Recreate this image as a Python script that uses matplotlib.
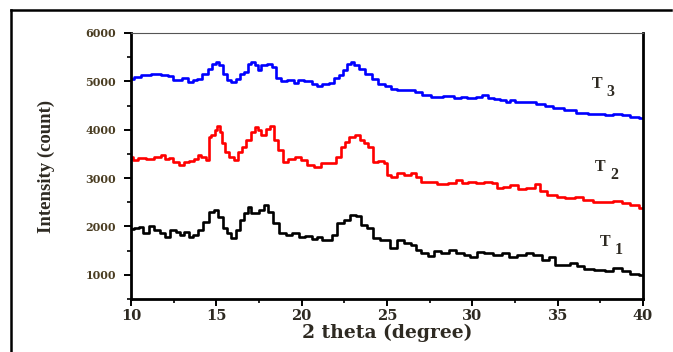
import numpy as np
import matplotlib
matplotlib.use("Agg")
import matplotlib.pyplot as plt
from matplotlib.lines import Line2D
from matplotlib.ticker import MultipleLocator

# XRD patterns (2 theta in degrees, intensity in counts)
t3_x = [10.0, 10.35, 10.85, 11.5, 12.0, 12.36, 12.6, 12.86, 13.17, 13.5, 13.74, 14.0, 14.37, 14.6,
        14.87, 15.05, 15.25, 15.5, 15.75, 16.0, 16.25, 16.5, 16.76, 16.93, 17.14, 17.39, 17.5, 17.76,
        18.14, 18.4, 18.64, 18.9, 19.4, 19.65, 19.9, 20.4, 20.78, 21.03, 21.4, 21.78, 22.03, 22.29,
        22.54, 22.79, 22.96, 23.2, 23.54, 23.9, 24.3, 24.67, 25.05, 25.4, 25.8, 26.4, 26.9, 27.2,
        27.9, 28.7, 29.2, 29.45, 29.95, 30.45, 30.7, 31.08, 31.46, 31.8, 32.1, 32.3, 32.7, 33.45,
        34.0, 34.5, 35.0, 35.7, 36.5, 37.0, 37.5, 38.0, 38.5, 39.0, 39.5, 40.0]
t3_y = [5044, 5090, 5126, 5150, 5130, 5105, 5023, 5020, 5070, 4990, 5020, 5055, 5160, 5263,
        5367, 5400, 5330, 5160, 5023, 4990, 5055, 5145, 5195, 5367, 5400, 5330, 5230, 5330,
        5367, 5300, 5060, 5010, 5020, 4970, 5020, 5010, 4955, 4900, 4955, 4970, 5060, 5126,
        5230, 5367, 5400, 5333, 5263, 5160, 5057, 4955, 4900, 4850, 4817, 4817, 4782, 4714,
        4680, 4690, 4665, 4680, 4660, 4680, 4714, 4665, 4645, 4610, 4576, 4624, 4576, 4576,
        4540, 4487, 4440, 4405, 4350, 4335, 4320, 4300, 4320, 4300, 4265, 4232]

t2_x = [10.0, 10.25, 10.6, 11.1, 11.6, 11.86, 12.1, 12.36, 12.6, 13.0, 13.24, 13.5, 13.87, 14.0,
        14.25, 14.5, 14.6, 14.8, 15.0, 15.12, 15.25, 15.38, 15.63, 15.88, 16.18, 16.33, 16.63,
        16.88, 17.14, 17.4, 17.5, 17.76, 18.0, 18.27, 18.5, 18.77, 19.0, 19.4, 19.77, 20.15, 20.5,
        20.9, 21.4, 21.9, 22.16, 22.4, 22.66, 22.9, 23.3, 23.54, 23.8, 24.0, 24.3, 24.67, 24.92,
        25.05, 25.4, 25.8, 26.2, 26.56, 26.8, 27.2, 27.7, 28.2, 28.9, 29.2, 29.56, 29.95, 30.45,
        30.95, 31.33, 31.6, 31.96, 32.46, 32.84, 33.45, 33.84, 34.1, 34.7, 35.2, 35.7, 36.3, 36.7,
        37.5, 38.0, 38.5, 39.0, 39.5, 40.0]
t2_y = [3441, 3372, 3407, 3386, 3441, 3476, 3386, 3407, 3338, 3270, 3324, 3360, 3386, 3476,
        3441, 3372, 3854, 3890, 3990, 4074, 3957, 3716, 3544, 3441, 3372, 3544, 3648,
        3785, 3957, 4060, 3990, 3890, 4025, 4074, 3785, 3580, 3338, 3386, 3428, 3372, 3270,
        3235, 3304, 3317, 3441, 3648, 3750, 3840, 3890, 3785, 3716, 3648, 3338, 3352, 3304,
        3063, 3030, 3097, 3063, 3111, 3030, 2925, 2925, 2877, 2890, 2960, 2905, 2925, 2905,
        2925, 2890, 2788, 2822, 2857, 2767, 2788, 2877, 2740, 2650, 2616, 2580, 2616, 2547,
        2513, 2513, 2527, 2480, 2445, 2375]

t1_x = [10.0, 10.35, 10.6, 10.85, 11.23, 11.48, 11.86, 12.1, 12.5, 12.74, 13.0, 13.24, 13.5,
        13.74, 14.12, 14.37, 14.75, 15.0, 15.25, 15.5, 15.75, 16.0, 16.25, 16.5, 16.76, 16.93,
        17.14, 17.39, 17.64, 17.9, 18.14, 18.5, 18.9, 19.27, 19.65, 20.03, 20.4, 20.78, 21.0,
        21.4, 21.66, 21.9, 22.29, 22.66, 23.04, 23.3, 23.67, 24.0, 24.3, 24.9, 25.4, 25.8, 26.2,
        26.56, 26.8, 27.2, 27.56, 27.94, 28.44, 28.8, 29.3, 29.7, 30.07, 30.45, 30.95, 31.46,
        31.96, 32.33, 32.96, 33.3, 33.84, 34.3, 34.7, 35.0, 35.45, 36.0, 36.3, 36.8, 37.5, 38.0,
        38.5, 39.0, 39.5, 40.0]
t1_y = [1942, 1963, 1997, 1873, 2011, 1928, 1873, 1790, 1928, 1894, 1825, 1894, 1777,
        1825, 1928, 2100, 2306, 2340, 2203, 1963, 1860, 1756, 1928, 2135, 2286, 2410,
        2272, 2272, 2340, 2444, 2306, 2066, 1860, 1825, 1860, 1790, 1804, 1736, 1790,
        1722, 1722, 1825, 2066, 2135, 2237, 2217, 2031, 1963, 1756, 1722, 1550, 1722, 1667,
        1619, 1515, 1447, 1392, 1502, 1447, 1515, 1447, 1413, 1364, 1481, 1447, 1413,
        1447, 1378, 1413, 1460, 1413, 1310, 1364, 1206, 1206, 1240, 1172, 1117, 1103, 1069,
        1137, 1069, 1021, 1000]

SERIES = [(t1_x, t1_y, "black"), (t2_x, t2_y, "#ff0000"), (t3_x, t3_y, "#0000ff")]
TXT = "#2e2a22"
TICKTXT = "#4a3d22"

fig = plt.figure(figsize=(6.73, 3.52), dpi=100)
ax = fig.add_axes([0.1947, 0.1506, 0.7607, 0.7557])

for xs, ys, col in SERIES:
    ax.plot(xs, ys, color=col, lw=1.9, drawstyle="steps-mid")

ax.set_xlim(10, 40)
ax.set_ylim(500, 6000)
ax.xaxis.set_major_locator(MultipleLocator(5))
ax.xaxis.set_minor_locator(MultipleLocator(2.5))
ax.yaxis.set_major_locator(MultipleLocator(1000))
ax.yaxis.set_minor_locator(MultipleLocator(500))
ax.set_yticks([1000, 2000, 3000, 4000, 5000, 6000])
ax.tick_params(which="major", direction="out", length=5, width=1.4)
ax.tick_params(which="minor", direction="out", length=3, width=1.2)
ax.tick_params(axis="y", labelsize=8, pad=6, labelcolor=TICKTXT)
ax.tick_params(axis="x", labelsize=10.5, pad=2, labelcolor=TXT)
for lab in ax.get_xticklabels() + ax.get_yticklabels():
    lab.set_fontfamily("DejaVu Serif")
    lab.set_fontweight("bold")

for s in ("left", "bottom", "right"):
    ax.spines[s].set_linewidth(2.0)
ax.spines["top"].set_linewidth(0.8)
ax.spines["top"].set_color("#555555")

ax.set_xlabel("2 theta (degree)", fontsize=13.5, fontweight="bold",
              family="DejaVu Serif", color=TXT, labelpad=1)
ax.set_ylabel("Intensity (count)", fontsize=13.5, fontweight="bold",
              family="Liberation Serif", color=TXT)
ax.yaxis.set_label_coords(-0.148, 0.5)

# curve labels
for x, y, d in [(37.3, 4950, "3"), (37.5, 3230, "2"), (37.8, 1680, "1")]:
    ax.text(x, y, "T", fontsize=11.5, fontweight="bold", family="Liberation Serif",
            color=TXT, ha="center", va="center")
    ax.text(x + 0.8, y - 160, d, fontsize=11.5, fontweight="bold", family="Liberation Serif",
            color=TXT, ha="center", va="center")

# outer frame of the original picture
fig.add_artist(Line2D([0.0163, 0.0163], [0.0, 0.9716], transform=fig.transFigure,
                      color="black", lw=1.8))
fig.add_artist(Line2D([0.0163, 0.997], [0.9716, 0.9716], transform=fig.transFigure,
                      color="black", lw=1.8))

fig.savefig("out.png", dpi=100, facecolor="white")
